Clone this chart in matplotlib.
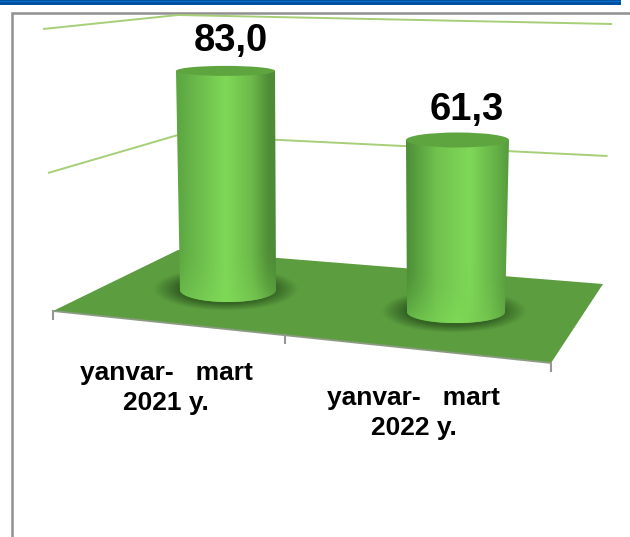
import numpy as np
import matplotlib
matplotlib.use("Agg")
import matplotlib.pyplot as plt
from matplotlib.colors import LinearSegmentedColormap
from matplotlib.patches import Ellipse, Polygon, Rectangle

# data
categories = ["yanvar-   mart\n2021 y.", "yanvar-   mart\n2022 y."]
values = [83.0, 61.3]
value_labels = ["83,0", "61,3"]
grid_values = [50, 100]

plt.rcParams["font.family"] = ["Liberation Sans", "DejaVu Sans"]

W, H = 630, 537
fig = plt.figure(figsize=(W / 100, H / 100), dpi=100)
ax = fig.add_axes([0, 0, 1, 1])
ax.set_xlim(0, W)
ax.set_ylim(H, 0)
ax.axis("off")

# frame and top band
ax.add_patch(Rectangle((11.5, 12.5), 640, 600, fc="white", ec="#909090", lw=1.8, zorder=1))
ax.add_patch(Rectangle((0, 0), 621, 4.7, fc="#00519e", ec="none", zorder=1))
ax.add_patch(Rectangle((0, 0.5), 621, 1.2, fc="#0a6fcf", ec="none", zorder=1))

# 3d frame: floor corners in pixels, px per value unit at each corner (one per gridline)
left = (53, 311)
back = (178, 250)
right = (603, 284)
front = (551, 363)
wall_scale = {"left": [2.76, 2.82], "back": [2.3, 2.35], "right": [2.56, 2.6]}
wall_dx = {"left": -10, "back": 0, "right": 9}

# gridlines
for n, v in enumerate(grid_values):
    xs, ys = [], []
    for name, c in [("left", left), ("back", back), ("right", right)]:
        xs.append(c[0] + wall_dx[name] * v / 100)
        ys.append(c[1] - v * wall_scale[name][n])
    ax.plot(xs, ys, color="#a6cf78", lw=1.4, zorder=2, solid_capstyle="butt")

# floor
ax.add_patch(Polygon([left, back, right, front], closed=True, fc="#5c9e3f", ec="none", zorder=3))
ax.plot([left[0], front[0]], [left[1], front[1]], color="#8c9a84", lw=1.3, zorder=4)
for tx, ty in [(53, 311), (285, 335), (550.5, 363)]:
    ax.plot([tx, tx], [ty, ty + 8], color="#969696", lw=1.5, zorder=4)

floor_clip = Polygon([left, back, right, front], closed=True, transform=ax.transData)
shadow_cmap = LinearSegmentedColormap.from_list("sh", [(0.2, 0.38, 0.14, 0.0), (0.2, 0.38, 0.14, 0.95)])

# left cylinder lit from the left, right one lit from the right
body_cmaps = [
    LinearSegmentedColormap.from_list(
        "body0",
        [(0, "#5aa53f"), (0.12, "#65b148"), (0.5, "#7fd857"), (0.75, "#6dbb4a"), (0.92, "#528f38"), (1, "#4c8a36")],
    ),
    LinearSegmentedColormap.from_list(
        "body1",
        [(0, "#4c8f36"), (0.1, "#589f3f"), (0.3, "#70c24e"), (0.62, "#7fd857"), (0.85, "#68b549"), (1, "#569b3d")],
    ),
]
bottom_cmap = LinearSegmentedColormap.from_list(
    "bottom", [(0, "#6cbf4c"), (0.5, "#80da58"), (0.8, "#74c650"), (1, "#5ea83f")]
)

# cylinder geometry
base_x = [228, 456]
base_y = [290, 312]
base_rx = [48, 49]
base_ry = [12, 11]
top_rx = [49.5, 51.5]
top_ry = [5, 7.5]
top_dx = [-2.5, 1.5]
px_per_value = [2.64, 2.806]
label_dx = [5.5, 9]

for i, v in enumerate(values):
    bx, by = base_x[i], base_y[i]
    ty = by - v * px_per_value[i]
    tx = bx + top_dx[i]

    # shadow
    sx, sy = bx - 2, by - 1
    xx, yy = np.meshgrid(np.linspace(-1, 1, 200), np.linspace(-1, 1, 120))
    rr = np.clip(np.sqrt(xx ** 2 + yy ** 2), 0, 1)
    im = ax.imshow(1 - np.clip((rr - 0.66) / 0.34, 0, 1), cmap=shadow_cmap,
                   extent=[sx - 73, sx + 73, sy + 22, sy - 22], aspect="auto", zorder=3.5, vmin=0, vmax=1)
    im.set_clip_path(floor_clip)

    # body outline
    theta = np.linspace(np.pi, 0, 60)
    low_x = bx + base_rx[i] * np.cos(theta)
    low_y = by + base_ry[i] * np.sin(theta)
    pts = [(tx - top_rx[i], ty)] + list(zip(low_x, low_y)) + [(tx + top_rx[i], ty), (tx - top_rx[i], ty)]
    body = Polygon(pts, closed=True, transform=ax.transData, fc="none", ec="none")
    ax.add_patch(body)
    grad = np.linspace(0, 1, 256).reshape(1, -1)
    x0, x1 = min(tx - top_rx[i], bx - base_rx[i]), max(tx + top_rx[i], bx + base_rx[i])
    im = ax.imshow(grad, cmap=body_cmaps[i], extent=[x0, x1, by + base_ry[i] + 1, ty], aspect="auto", zorder=5)
    im.set_clip_path(body)

    # lighter lower part
    fade = np.zeros((80, 256, 4))
    fade[..., :3] = bottom_cmap(np.linspace(0, 1, 256))[:, :3]
    fade[..., 3] = np.linspace(0, 1, 80)[:, None] ** 2
    im = ax.imshow(fade, extent=[x0, x1, by + base_ry[i] + 1, by - 50], aspect="auto", zorder=5.2)
    im.set_clip_path(body)

    # top ellipse
    ax.add_patch(Ellipse((tx, ty), 2 * top_rx[i], 2 * top_ry[i], fc="#5ea53f", ec="none", zorder=6))

    # value label
    ax.text(tx + label_dx[i], ty - 29.5, value_labels[i], fontsize=27.5, fontweight="bold",
            ha="center", va="center", color="black", zorder=7)

# category labels
label_x = [166, 413.5]
label_y = [388, 413]
for i, c in enumerate(categories):
    ax.text(label_x[i], label_y[i], c, fontsize=19, fontweight="bold", ha="center", va="center",
            linespacing=1.27, color="black", zorder=7)

ax.set_xlim(0, W)
ax.set_ylim(H, 0)
fig.savefig("out.png", dpi=100)
